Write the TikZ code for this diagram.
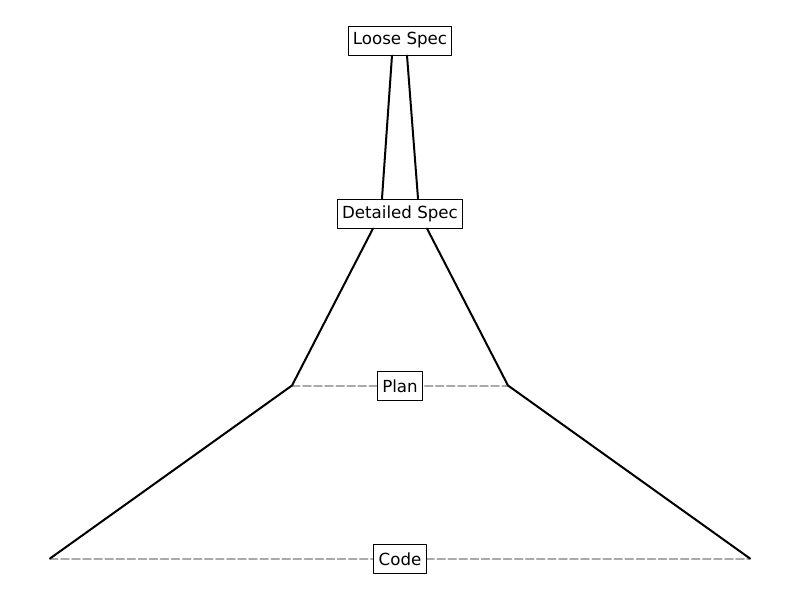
\documentclass[tikz,border=0pt]{standalone}
\usepackage{fontspec}
\setmainfont{DejaVu Sans}
\definecolor{guidegray}{RGB}{170,170,170}
\tikzset{
  stage/.style={draw,fill=white,line width=0.75pt,inner xsep=3.6pt,inner ysep=0pt,
    minimum height=21.75pt,font=\fontsize{12.5}{15}\selectfont},
  funnel/.style={line width=1.5pt},
  guide/.style={guidegray,line width=1.5pt,dash pattern=on 5.8pt off 2.5pt}
}
\begin{document}
\begin{tikzpicture}[x=0.75pt,y=-0.75pt,every path/.style={join=round,cap=round}]
    \useasboundingbox (0,0) rectangle (800,600);
    % corners of the funnel
    \coordinate (planl) at (292,385.5);
    \coordinate (planr) at (508,385.5);
    \coordinate (codel) at (50,558.5);
    \coordinate (coder) at (750,558.5);
    \draw[guide] (planl) -- (planr);
    \draw[guide] (codel) -- (coder);
    \node[stage] (loose) at (400,40.5) {Loose Spec};
    \node[stage] (detailed) at (400,213.5) {Detailed Spec};
    \node[stage] (plan) at (400,386) {Plan};
    \node[stage] (code) at (400,559) {Code};
    \draw[funnel] ([xshift=-6pt]loose.south) -- ([xshift=-13.5pt]detailed.north);
    \draw[funnel] ([xshift=5.25pt]loose.south) -- ([xshift=13.5pt]detailed.north);
    \draw[funnel] ([xshift=-20.25pt]detailed.south) -- (planl) -- (codel);
    \draw[funnel] ([xshift=20.25pt]detailed.south) -- (planr) -- (coder);
  \end{tikzpicture}
\end{document}
